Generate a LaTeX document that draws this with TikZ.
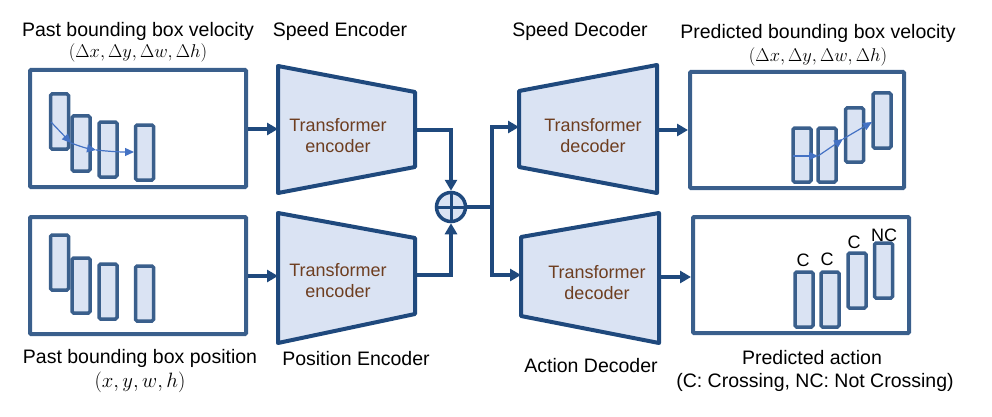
\documentclass[tikz,border=0pt]{standalone}
\usepackage{amsmath}
\usepackage{fontspec}
\setmainfont{Liberation Sans}
\usepackage{tikz}
\usetikzlibrary{arrows.meta}

\definecolor{boxblue}{RGB}{58,95,140}
\definecolor{darkblue}{RGB}{31,73,125}
\definecolor{lightfill}{RGB}{218,227,243}
\definecolor{midblue}{RGB}{68,114,196}
\definecolor{txtbrown}{RGB}{110,62,32}

\begin{document}
\begin{tikzpicture}[x=1pt,y=-1pt,
    outbox/.style={draw=boxblue,line width=4pt,rounded corners=1pt,inner sep=0pt},
    bar/.style={draw=boxblue,fill=lightfill,line width=3.5pt,rounded corners=1.5pt,inner sep=0pt,minimum width=18pt},
    trap/.style={draw=darkblue,fill=lightfill,line width=4pt,line join=round},
    arr/.style={draw=darkblue,line width=3.5pt,-{Triangle[length=11pt,width=12pt]}},
    conn/.style={draw=darkblue,line width=3.5pt},
    thinarr/.style={draw=midblue,line width=1.2pt,-{Triangle[length=9pt,width=8pt]}},
    lbl/.style={font=\fontsize{19.5}{22}\selectfont,inner sep=0pt},
    mlbl/.style={font=\fontsize{17}{20}\selectfont,inner sep=0pt,scale=1.07},
    inlbl/.style={font=\fontsize{18}{21}\selectfont,text=txtbrown,align=center,inner sep=0pt},
    clbl/.style={font=\fontsize{18}{20}\selectfont,inner sep=0pt}]
\useasboundingbox (0,0) rectangle (992,417);

% input boxes
\node[outbox,minimum width=216pt,minimum height=117pt] (velbox) at (138,128.5) {};
\node[outbox,minimum width=216pt,minimum height=117pt] (posbox) at (138,275.5) {};
\node[bar,minimum height=55pt] (vb1) at (59.5,121.5) {};
\node[bar,minimum height=55pt] (vb2) at (81,143.5) {};
\node[bar,minimum height=55pt] (vb3) at (108,149.5) {};
\node[bar,minimum height=55pt] (vb4) at (144.5,152.5) {};
\node[bar,minimum height=55pt] (pb1) at (59.5,262.5) {};
\node[bar,minimum height=55pt] (pb2) at (81,285.5) {};
\node[bar,minimum height=55pt] (pb3) at (108,291.5) {};
\node[bar,minimum height=55pt] (pb4) at (144.5,293.5) {};
\coordinate (v0) at (51,122);
\coordinate (v1) at (71,143);
\coordinate (v2) at (96,150);
\coordinate (v3) at (134,152);
\draw[thinarr] (v0) -- (v1);
\draw[thinarr] (v1) to[bend right=5] (v2);
\draw[thinarr] (v2) to[bend right=3] (v3);

% encoders
\draw[trap] (278,66) -- (415,92) -- (415,167) -- (278,193) -- cycle;
\draw[trap] (278,213) -- (415,238) -- (415,314) -- (278,343) -- cycle;
\coordinate (spdencin) at (278,129);
\coordinate (spdencout) at (415,130);
\coordinate (posencin) at (278,276);
\coordinate (posencout) at (415,275);
\node[inlbl] (spdenc) at (338,136) {Transformer\\encoder};
\node[inlbl] (posenc) at (338,281) {Transformer\\encoder};

% sum
\node[circle,draw=darkblue,fill=lightfill,line width=3.5pt,minimum size=29pt,inner sep=0pt] (plus) at (451,207) {};
\draw[darkblue,line width=3pt] (plus.north) -- (plus.south) (plus.west) -- (plus.east);
\coordinate (split) at (492,207);

% decoders
\draw[trap] (519,91) -- (657,65) -- (657,193) -- (519,167) -- cycle;
\draw[trap] (521,237) -- (659,213) -- (659,343) -- (521,316) -- cycle;
\coordinate (spddecin) at (519,127);
\coordinate (spddecout) at (657,130);
\coordinate (actdecin) at (521,275);
\coordinate (actdecout) at (659,277);
\node[inlbl] (spddec) at (593,136) {Transformer\\decoder};
\node[inlbl] (actdec) at (597,283) {Transformer\\decoder};

% output boxes
\node[outbox,minimum width=214pt,minimum height=116pt] (predbox) at (797,130) {};
\node[outbox,minimum width=216pt,minimum height=116pt] (actbox) at (801,275) {};
\node[bar,minimum height=54pt] (ob1) at (802,155) {};
\node[bar,minimum height=54pt] (ob2) at (827,155) {};
\node[bar,minimum height=54pt] (ob3) at (854.5,135) {};
\node[bar,minimum height=55pt] (ob4) at (882,120.5) {};
\coordinate (w0) at (793,156);
\coordinate (w1) at (818,156);
\coordinate (w2) at (843,139);
\coordinate (w3) at (872,122);
\draw[thinarr] (w0) -- (w1);
\draw[thinarr] (w1) -- (w2);
\draw[thinarr] (w2) -- (w3);
\node[bar,minimum height=55pt] (ab1) at (804,299.5) {};
\node[bar,minimum height=55pt] (ab2) at (830,299.5) {};
\node[bar,minimum height=55pt] (ab3) at (857,280.5) {};
\node[bar,minimum height=55pt] (ab4) at (883.5,270.5) {};
\node[clbl] (c1) at (803,260) {C};
\node[clbl] (c2) at (827,259) {C};
\node[clbl] (c3) at (854,242) {C};
\node[clbl] (c4) at (884,235) {NC};

% connectors
\draw[arr] (velbox.east |- spdencin) -- (spdencin);
\draw[arr] (posbox.east |- posencin) -- (posencin);
\draw[arr] (spdencout) -| (plus.north);
\draw[arr] (posencout) -| (plus.south);
\draw[conn] (plus.east) -- (split);
\draw[arr] (split) |- (spddecin);
\draw[arr] (split) |- (actdecin);
\draw[arr] (spddecout) -- (predbox.west |- spddecout);
\draw[arr] (actdecout) -- (actbox.west |- actdecout);

% labels
\node[lbl] (vellbl) at (138,31) {Past bounding box velocity};
\node[mlbl] (velmath) at (138,53) {$(\Delta x,\Delta y,\Delta w,\Delta h)$};
\node[lbl] (spdenclbl) at (340,31) {Speed Encoder};
\node[lbl] (spddeclbl) at (580,31) {Speed Decoder};
\node[lbl] (predlbl) at (818,33) {Predicted bounding box velocity};
\node[mlbl] (predmath) at (818,57) {$(\Delta x,\Delta y,\Delta w,\Delta h)$};
\node[lbl] (poslbl) at (140,358) {Past bounding box position};
\node[mlbl,font=\fontsize{21}{24}\selectfont,scale=1/1.07] (posmath) at (140,382) {$(x,y,w,h)$};
\node[lbl] (posenclbl) at (356,359) {Position Encoder};
\node[lbl] (actdeclbl) at (591,366) {Action Decoder};
\node[lbl] (actlbl) at (812,358) {Predicted action};
\node[lbl] (actlbl2) at (815,382) {(C: Crossing, NC: Not Crossing)};
\end{tikzpicture}
\end{document}
